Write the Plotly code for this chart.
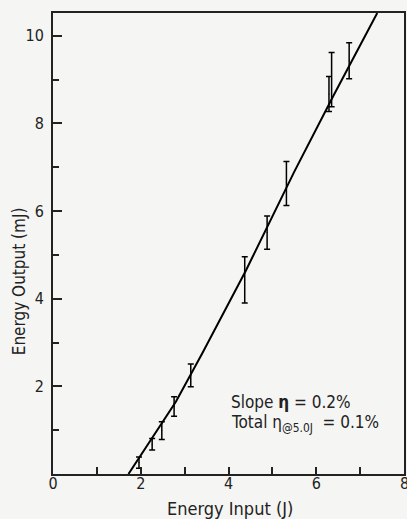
import plotly.graph_objects as go

energy_in = [1.96, 2.26, 2.48, 2.76, 3.14, 4.37, 4.88, 5.32, 6.29, 6.35, 6.75]
energy_out = [0.26, 0.68, 0.99, 1.54, 2.25, 4.43, 5.51, 6.63, 8.67, 9.00, 9.43]
err_out = [0.13, 0.13, 0.20, 0.22, 0.26, 0.53, 0.38, 0.50, 0.40, 0.62, 0.41]

# Hand-drawn fit line
fit_x = [1.72, 2.80, 3.40, 4.40, 5.50, 6.40, 7.39]
fit_y = [0.00, 1.65, 2.75, 4.65, 6.90, 8.65, 10.52]

x_ticks = [0, 2, 4, 6, 8]
y_ticks = [2, 4, 6, 8, 10]

FONT = "DejaVu Sans Condensed"
BG = "#f5f5f3"

fig = go.Figure()
fig.add_trace(go.Scatter(x=fit_x, y=fit_y, mode="lines",
                         line=dict(color="black", width=2), showlegend=False,
                         hoverinfo="skip"))
fig.add_trace(go.Scatter(x=energy_in, y=energy_out, mode="markers",
                         marker=dict(size=1, color="black"),
                         error_y=dict(type="data", array=err_out, visible=True,
                                      color="black", thickness=1.5, width=3),
                         showlegend=False))

fig.update_layout(
    width=407, height=519,
    margin=dict(l=53, r=3, t=13, b=45),
    paper_bgcolor=BG, plot_bgcolor=BG,
    font=dict(family=FONT, size=16, color="#222"),
    xaxis=dict(range=[0, 8], tickvals=x_ticks[:-1], ticktext=[str(v) for v in x_ticks[:-1]],
               ticks="inside", ticklen=7, tickwidth=1.5, tickcolor="#222",
               minor=dict(tickvals=[1, 3, 5, 7], ticks="inside", ticklen=7,
                          tickwidth=1.5, tickcolor="#222"),
               showgrid=False, zeroline=False, showline=True, linecolor="#222",
               linewidth=2, mirror=True, automargin=False, ticklabelstandoff=-6),
    yaxis=dict(range=[0, 10.52], tickvals=y_ticks, ticktext=[str(v) for v in y_ticks],
               ticks="inside", ticklen=9, tickwidth=1.5, tickcolor="#222",
               minor=dict(tickvals=[1, 3, 5, 7, 9], ticks="inside", ticklen=6,
                          tickwidth=1.5, tickcolor="#222"),
               showgrid=False, zeroline=False, showline=True, linecolor="#222",
               linewidth=2, mirror=True, ticklabelstandoff=4, automargin=False),
)

# last x tick label sits on the right edge (partly cut, as in the original)
fig.add_annotation(text=str(x_ticks[-1]), x=x_ticks[-1], y=0, xanchor="center",
                   yanchor="top", yshift=2, showarrow=False, font=dict(size=16))

fig.add_annotation(text="Energy Output (mJ)", xref="paper", yref="paper",
                   x=-0.097, y=0.418, textangle=-90, showarrow=False,
                   font=dict(size=17), xanchor="center", yanchor="middle")
fig.add_annotation(text="Energy Input (J)", xref="paper", yref="paper",
                   x=0.505, y=-0.074, showarrow=False,
                   font=dict(size=18), xanchor="center", yanchor="middle")
fig.add_annotation(text="Slope <b>η</b> = 0.2%", x=4.01, y=1.65, xanchor="left",
                   yanchor="middle", showarrow=False, font=dict(size=17))
fig.add_annotation(text="Total η<sub>@5.0J</sub>  = 0.1%", x=4.01, y=1.15,
                   xanchor="left", yanchor="middle", showarrow=False,
                   font=dict(size=17))

fig.write_html("out.html", config={"displayModeBar": False},
               post_script="document.body.style.margin='0';document.body.style.background='%s';" % BG)
